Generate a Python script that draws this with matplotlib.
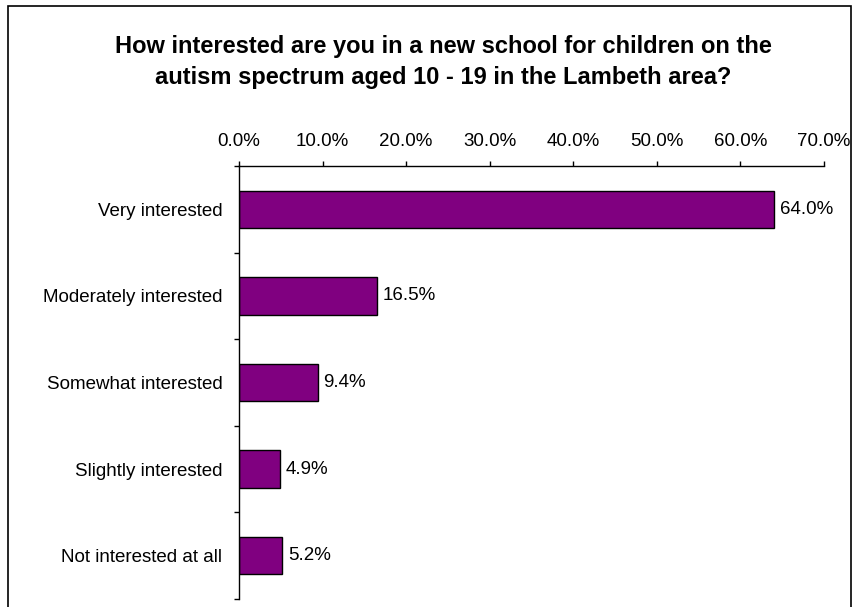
import matplotlib
matplotlib.use("Agg")
import matplotlib.pyplot as plt
from matplotlib.patches import Rectangle
from matplotlib.ticker import FixedLocator

categories = ["Very interested", "Moderately interested", "Somewhat interested",
              "Slightly interested", "Not interested at all"]
values = [64.0, 16.5, 9.4, 4.9, 5.2]
xticks = [0, 10, 20, 30, 40, 50, 60, 70]
xtick_labels = ["0.0%", "10.0%", "20.0%", "30.0%", "40.0%", "50.0%", "60.0%", "70.0%"]
title = "How interested are you in a new school for children on the\nautism spectrum aged 10 - 19 in the Lambeth area?"

plt.rcParams['font.family'] = ['Liberation Sans', 'DejaVu Sans']

W, H = 857, 607
fig = plt.figure(figsize=(W / 100, H / 100), dpi=100)
fig.patch.set_facecolor("white")

# outer frame (bottom edge runs off the image)
fig.patches.append(Rectangle((8 / W, -0.05), (851 - 8) / W, (H - 6) / H + 0.05,
                             transform=fig.transFigure, fill=False,
                             edgecolor="black", linewidth=1.2))

ax = fig.add_axes([239 / W, 1 - 599 / H, (824 - 239) / W, (599 - 166) / H])
n = len(categories)
ypos = list(range(n))
ax.barh(ypos, values, height=0.43, color="#800080", edgecolor="black", linewidth=1.0)
ax.set_xlim(0, 70)
ax.set_ylim(n - 0.5, -0.5)

fs = 13.5
ax.xaxis.tick_top()
ax.set_xticks(xticks)
ax.set_xticklabels(xtick_labels, fontsize=fs)
ax.tick_params(axis="x", direction="out", length=3.6, width=1, pad=8, colors="black")

ax.set_yticks(ypos)
ax.set_yticklabels(categories, fontsize=fs)
ax.tick_params(axis="y", which="major", length=0, pad=12)
ax.yaxis.set_minor_locator(FixedLocator([i - 0.5 for i in range(n + 1)]))
ax.tick_params(axis="y", which="minor", direction="out", length=3.6, width=1)

for s in ["right", "bottom"]:
    ax.spines[s].set_visible(False)
for s in ["left", "top"]:
    ax.spines[s].set_linewidth(1)

for y, v in zip(ypos, values):
    ax.text(v + 0.7, y, f"{v:.1f}%", va="center", ha="left", fontsize=fs)

fig.text(443 / W, 1 - 62 / H, title, ha="center", va="center", fontsize=17,
         fontweight="bold", linespacing=1.42)

fig.savefig("out.png", dpi=100)
